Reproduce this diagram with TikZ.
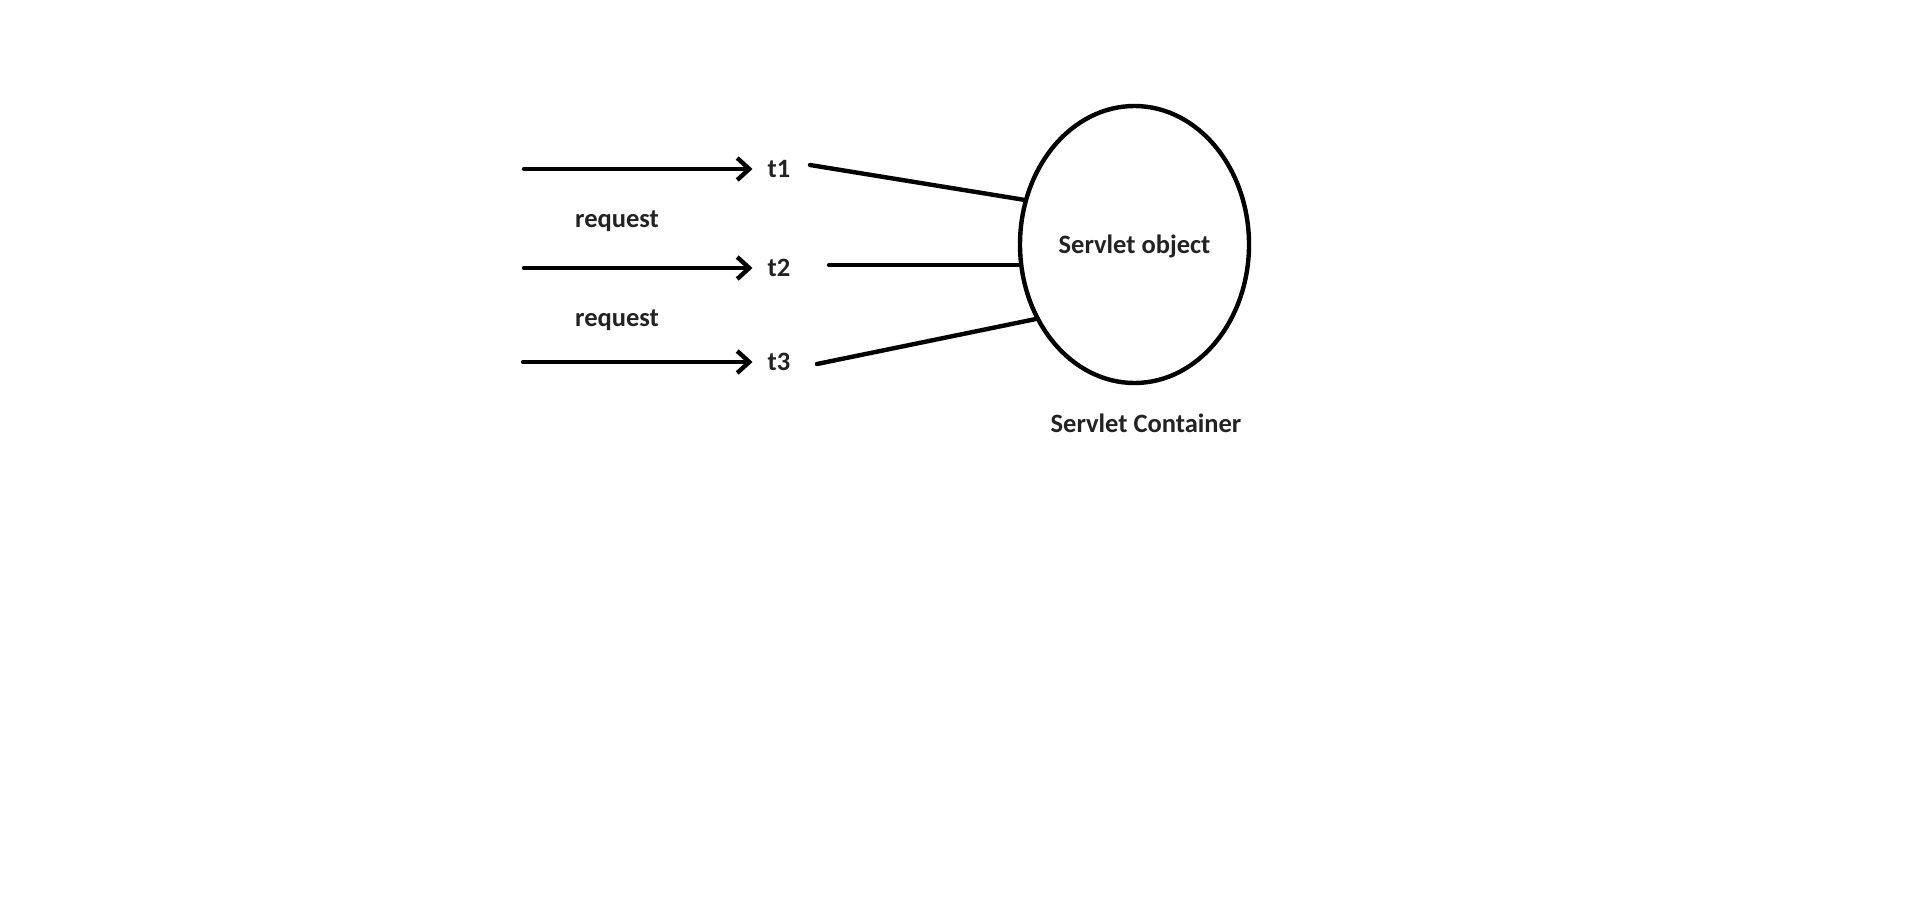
\documentclass[tikz,border=0pt]{standalone}
\usepackage{fontspec}
\setmainfont{Carlito}
\usetikzlibrary{arrows.meta,shapes.geometric}
\definecolor{txt}{HTML}{222222}
\begin{document}
\begin{tikzpicture}[x=1pt,y=-1pt,
  lbl/.style={font=\fontsize{26.5}{30}\selectfont\bfseries, text=txt, inner sep=0pt},
  arr/.style={line width=4.4pt, line cap=round, -{Straight Barb[length=12pt,width=22pt,line width=4.4pt]}, shorten >=15pt},
  conn/.style={line width=4.4pt, line cap=round},
  container/.style={ellipse, draw, line width=4.4pt, minimum width=229pt, minimum height=277pt, inner sep=0pt, text height=17pt, text depth=0pt, font=\fontsize{26.5}{30}\selectfont\bfseries, text=txt}]
\useasboundingbox (0,0) rectangle (1913,897);
% servlet object
\node[container] (so) at (1134.5,244.5) {Servlet object};
\node[lbl, anchor=base] (sc) at (1146,432) {Servlet Container};
% threads
\node[lbl] (t1) at (779,169) {t1};
\node[lbl] (t2) at (779,268) {t2};
\node[lbl] (t3) at (779,362) {t3};
% requests
\node[lbl, anchor=base] (r1) at (617,227) {request};
\node[lbl, anchor=base] (r2) at (617,326) {request};
% arrow origins
\coordinate (a1) at (524,169);
\coordinate (a2) at (524,268);
\coordinate (a3) at (523,362);
\draw[arr] (a1) -- (t1.west);
\draw[arr] (a2) -- (t2.west);
\draw[arr] (a3) -- (t3.west);
% connector starts
\coordinate (c1) at (810,165);
\coordinate (c2) at (829,265);
\coordinate (c3) at (817,364);
\draw[conn] (c1) -- (so.158);
\draw[conn] (c2) -- (c2 -| so.west);
\draw[conn] (c3) -- (so.217);
\end{tikzpicture}
\end{document}
